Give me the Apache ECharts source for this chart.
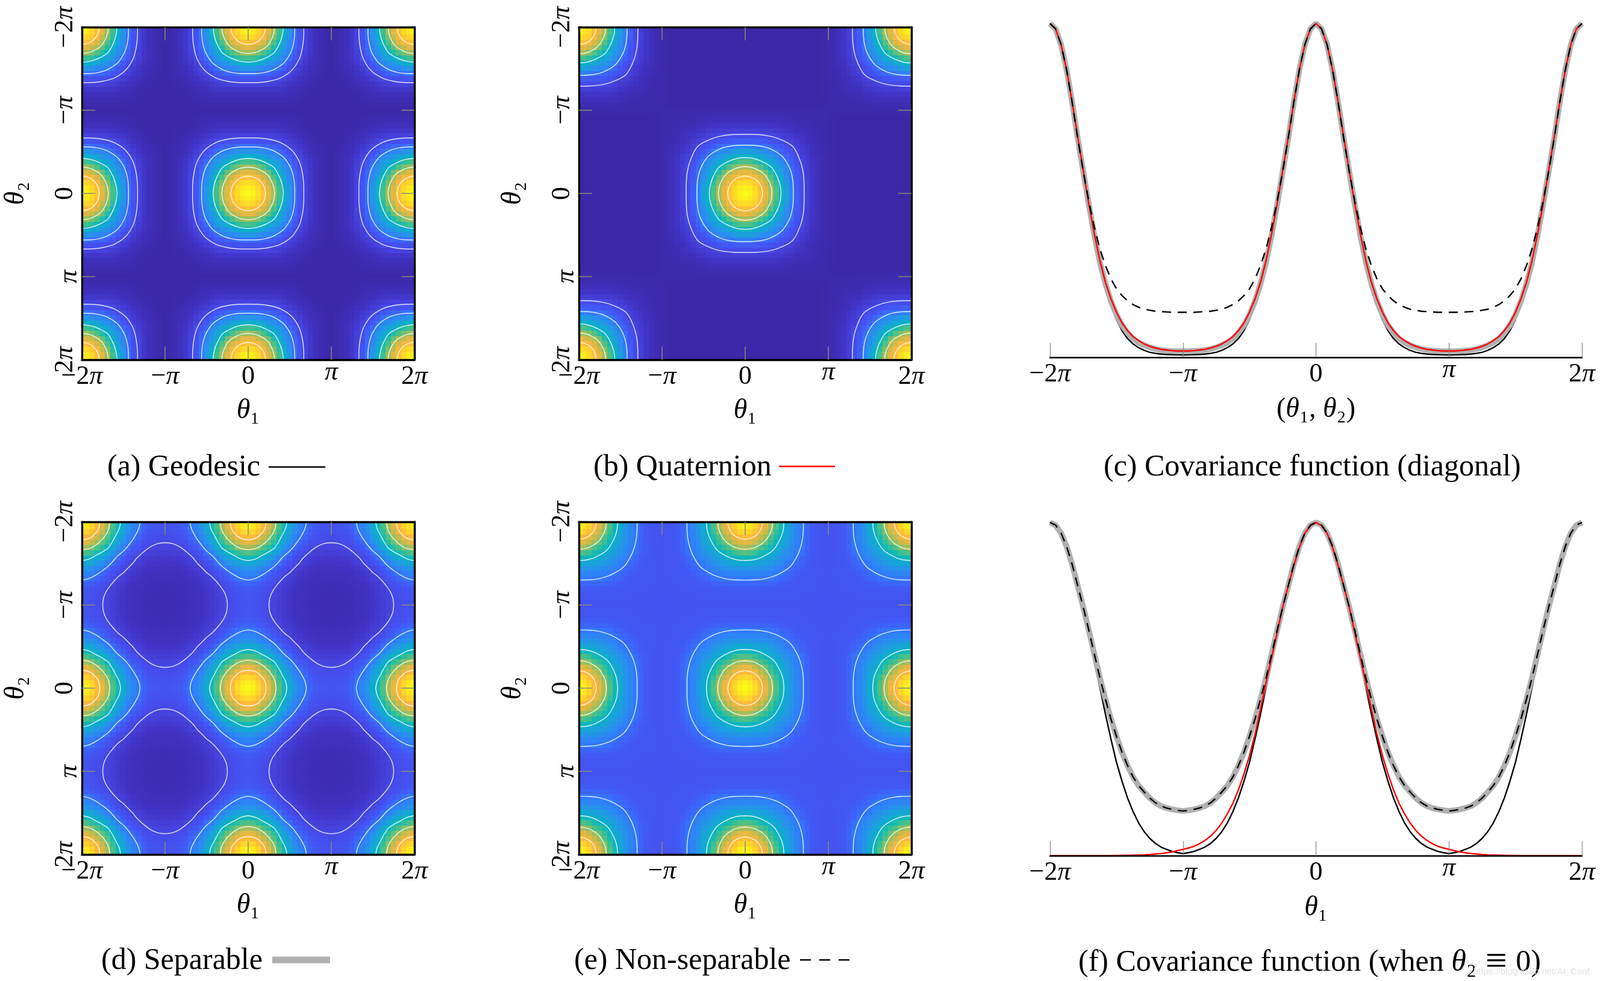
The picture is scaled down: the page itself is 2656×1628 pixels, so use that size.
<!DOCTYPE html>
<html><head><meta charset="utf-8">
<script src="https://cdn.jsdelivr.net/npm/echarts@6/dist/echarts.min.js"></script>
<style>html,body{margin:0;padding:0;background:#fff}#c{width:2656px;height:1628px}</style>
</head><body><div id="c"></div>
<script>
// ---- data (values in percent; angles in units of pi) ----
const tickLabels = ['−2π','−π','0','π','2π'];
// Heat tiles: offset from a peak, step pi/16, 0..pi. Symmetric, so row j holds columns i = j..16
const geodesicTile = [
[100,98,92,84,73,62,51,38,28,19.5,13.5,8.8,5.5,3.3,2,1,.5],
[95.5,90,82,72,61,50,37.5,28,19.5,13.5,8.8,5.5,3.3,2,1,.5],
[86,78,67,57,47,35,26,18.5,13,8.5,5.5,3.3,2,1,.5],
[70,62,52,42,32.5,24,17,12.5,8.5,5.5,3,2,1,.5],
[55,45,36,28,23,17.5,12.5,8.5,5.5,3.2,2,1,.5],
[38,32,26,22,16,11,7.8,5,3.2,2,1,.5],
[28,22.7,18,14,10.5,7,4.5,3,2,1,.5],
[18.7,15,11.3,8.7,6,3.9,2.5,1.7,1,.5],
[12,9.5,7,4.7,3.1,2.2,1.5,1,.5],
[7.5,5.5,4,2.6,2,1.4,.8,.5],
[4.2,2.9,2,1.4,1,.7,.4],
[2.2,1.5,1,.8,.5,.4],
[1,.8,.6,.4,.3],
[.6,.4,.3,.2],
[.3,.2,.2],
[.2,.1],
[0]];
const quaternionTile = [
[100,98,92,84.5,74,63.5,52.5,40,31,22.5,16,11,7.5,5,3,1.8,1],
[96,90.5,82.5,73,62.5,51.5,39.5,31,22.5,16,11,7.5,5,3,1.8,1],
[87,79,68,58,48,37,29,21,15.5,11,7.5,5,3,1.8,1],
[71,63,53,43,34,26,19.5,15,10.5,7,5,3,1.8,1],
[56,46,37,30,25,19,14.5,10.5,7,5,3,1.8,1],
[40,34,28,24,18,13.5,10,7,4.7,3,1.8,1],
[29,25,20,16,12.5,9,6.5,4.5,3,1.8,1],
[20,17,13.5,11,8,6,4,2.8,1.7,1],
[14,11.5,9,6.5,5,3.2,2.2,1.5,1],
[10,8,6,4.2,3,2,1.4,1],
[6,4.5,3,2.2,1.5,1.2,1],
[4,3,2,1.5,1.2,1],
[2.5,1.8,1.5,1,1],
[1.5,1.2,1,1],
[1,1,1],
[1,1],
[1]];
// Quaternion, off-peak block: theta1 in pi..2pi (rows), theta2 in 0..pi (columns)
const quaternionOffTile = [
[1,1,1,1,1,1,1,1,1,1,1,1,1,1,1,1,1],
[.5,.5,.5,.5,.5,.5,.5,.5,.5,.5,.5,.5,.5,.5,.5,.5,1],
[0,0,0,0,0,0,0,0,0,0,0,0,0,0,0,.5,1],
[0,0,0,0,0,0,0,0,0,0,0,0,0,0,0,.5,1],
[0,0,0,0,0,0,0,0,0,0,0,0,0,0,0,.5,1],
[0,0,0,0,0,0,0,0,0,0,0,0,0,0,0,.5,1],
[0,0,0,0,0,0,0,0,0,0,0,0,0,0,0,.5,1],
[0,0,0,0,0,0,0,0,0,0,0,0,0,0,0,.5,1],
[0,0,0,0,0,0,0,0,0,0,0,0,0,0,0,.5,1],
[0,0,0,0,0,0,0,0,0,0,0,0,0,0,0,.5,1],
[0,0,0,0,0,0,0,0,0,0,0,0,0,0,0,.5,1],
[0,0,0,0,0,0,0,0,0,0,0,0,0,0,0,.5,1],
[0,0,0,0,0,0,0,0,0,0,0,0,0,0,0,.5,1],
[0,0,0,0,0,0,0,0,0,0,0,0,0,0,0,.5,1],
[0,0,0,0,0,0,0,0,0,0,0,0,0,0,0,.5,1],
[0,0,0,0,0,0,0,0,0,0,0,0,0,0,0,.5,1],
[0,0,0,0,0,0,0,0,0,0,0,0,0,0,0,.5,1]];
const separableTile = [
[100,97.5,91,82,74,63.5,52.5,42.5,35,28,23.5,20.5,17,15.2,14.2,13.6,13.4],
[95,88.7,80,72.2,61.9,51.2,41.4,34.1,27.3,22.9,20,16.6,14.8,13.8,13.3,13.1],
[82.8,74.6,67.3,57.8,47.8,38.7,31.9,25.5,21.4,18.7,15.5,13.8,12.9,12.4,12.2],
[67.2,60.7,52,43,34.9,28.7,23,19.3,16.8,13.9,12.5,11.6,11.2,11],
[54.8,47,38.9,31.5,25.9,20.7,17.4,15.2,12.6,11.2,10.5,10.1,9.9],
[40.3,33.3,27,22.2,17.8,14.9,13,10.8,9.7,9,8.6,8.5],
[27.6,22.3,18.4,14.7,12.3,10.8,8.9,8,7.5,7.1,7],
[18.1,14.9,11.9,10,8.7,7.2,6.5,6,5.8,5.7],
[12.3,9.8,8.2,7.2,6,5.3,5,4.8,4.7],
[7.8,6.6,5.7,4.8,4.3,4,3.8,3.8],
[5.5,4.8,4,3.6,3.3,3.2,3.1],
[4.2,3.5,3.1,2.9,2.8,2.7],
[2.9,2.6,2.4,2.3,2.3],
[2.3,2.2,2.1,2],
[2,1.9,1.9],
[1.8,1.8],
[1.8]];
const nonSeparableTile = [
[100,97.5,91,82,74,63.5,52.5,42.5,35,28,23.5,20.5,17,15.2,14.2,13.6,13.4],
[95,88.7,80,72.2,61.9,51.7,42,35,28,23.5,20.5,17,15.2,14.2,13.6,13.4],
[82.8,74.6,67.3,58,49,40.5,33.6,27.3,23.2,20.3,17,15.2,14.2,13.6,13.4],
[67.2,61,52,44,37,32,27,23.2,20.1,17,15.2,14.2,13.6,13.4],
[55,48,41,35,30.8,26.2,22.6,20,16.8,15.2,14.2,13.6,13.4],
[43,37,32,28.5,25,21.7,19.4,16.7,15.2,14.2,13.6,13.4],
[33,29,26.5,23.5,20.8,18.7,16.3,14.9,14.2,13.6,13.4],
[26,24,22,19.4,17,15.4,14.8,14.1,13.6,13.4],
[21,19.5,18,16.5,15.2,14.5,14,13.6,13.4],
[17.5,16.8,15.8,15,14.5,14,13.6,13.4],
[15.6,15,14.6,14.2,13.9,13.6,13.4],
[14.5,14.3,14,13.8,13.6,13.4],
[14,13.8,13.7,13.6,13.5],
[13.7,13.6,13.5,13.5],
[13.5,13.5,13.5],
[13.5,13.5],
[13.5]];
// Contour half-arcs: offset from a peak in units of pi, axis to diagonal
const geodesicContours = [
[[.208,0],[.2,.055],[.18,.104],[.147,.147]],
[[.317,0],[.305,.085],[.275,.16],[.228,.228]],
[[.422,0],[.41,.10],[.375,.2],[.31,.31]],
[[.56,0],[.558,.1],[.544,.205],[.51,.31],[.43,.43]],
[[.669,0],[.667,.12],[.652,.25],[.612,.388],[.522,.522]]];
const quaternionContours = [
[[.21,0],[.2,.057],[.18,.105],[.149,.149]],
[[.322,0],[.31,.087],[.278,.163],[.23,.23]],
[[.431,0],[.42,.102],[.383,.204],[.315,.315]],
[[.58,0],[.578,.1],[.563,.212],[.528,.32],[.445,.445]],
[[.71,0],[.708,.13],[.695,.265],[.655,.41],[.568,.568]]];
const separableContours = [
[[.216,0],[.205,.07],[.18,.12],[.15,.15]],
[[.336,0],[.32,.09],[.285,.16],[.228,.228]],
[[.466,0],[.448,.083],[.405,.167],[.36,.25],[.315,.315]],
[[.70,0],[.682,.083],[.64,.167],[.585,.25],[.518,.333],[.42,.42]],
[[1,.25],[.917,.26],[.833,.295],[.75,.355],[.667,.43],[.61,.5],[.555,.555]]];
const nonSeparableContours = [
[[.21,0],[.2,.057],[.18,.105],[.149,.149]],
[[.33,0],[.318,.089],[.285,.167],[.235,.235]],
[[.466,0],[.455,.11],[.415,.22],[.338,.338]],
[[.70,0],[.698,.125],[.68,.255],[.635,.39],[.54,.54]]];
// Curves, step pi/24 over 0..pi from a peak
const diagGeodesic = [100,98.4,93.7,86.1,76.4,65.6,55.5,45.5,36,27.5,21,15.5,11.3,8,5.6,4,2.9,2.1,1.5,1.2,1,.85,.8,.75,.7];
const diagQuaternion = [100,98.4,93.7,86.1,76.4,66,56,46,37,29,22.5,17.5,13.5,10.3,8,6.2,5,4,3.3,2.8,2.4,2.2,2,1.9,1.9];
const diagSeparable = [100,98.4,93.7,86.1,76.4,65.6,55.7,45.8,36.6,28.5,22.1,16.8,12.8,9.6,7.3,5.6,4.4,3.6,3,2.5,2.2,2,1.9,1.8,1.8];
const diagNonSeparable = [100,98.4,93.7,86.1,76.4,65.6,55.7,46.8,39,32.5,27.5,23.5,20.5,18.5,16.9,15.8,15,14.4,14.1,13.8,13.7,13.6,13.5,13.5,13.5];
const axisGeodesic = [100,99,96.5,92,86.5,80,73,65.7,58,50.5,42.5,35,28,22.3,17.3,13.2,9.8,7.2,5.2,3.7,2.6,1.9,1.3,.9,.6];
const axisSeparable = [100,99.2,96.8,92.8,87.4,81,74.6,67.7,60.5,53.4,47,41,35.8,31,27,23.6,21,19.1,17.3,15.9,14.9,14.3,13.9,13.6,13.4];
const axisNonSeparable = [100,99.2,96.8,92.8,87.4,81,74.6,67.7,60.5,53.4,47,41,35.8,31,27,23.6,21,19.1,17.3,15.9,14.9,14.3,13.9,13.6,13.4];
// Quaternion on theta2=0 has no peak at 2pi: step pi/24 over 0..2pi
const axisQuaternion = [100,99,96.8,92.5,87,81,74.6,67,59.5,52,44,36.5,30,24.5,19.7,15.7,12.5,9.8,7.6,5.9,4.6,3.6,2.8,2.3,1.9,
 1.5,1.1,.85,.65,.5,.35,.25,.2,.15,.1,.05,.05,0,0,0,0,0,0,0,0,0,0,0,0];

const parula = ['#3c27a6','#4135c8','#4648e6','#4258f5','#3278fc','#2a8cf0','#1e9ee0','#10aad0','#08b4c2','#20bcaa','#3cc090','#68c078','#94c060','#b8bc52','#d8b848','#f0b840','#fdb83c','#fcc832','#fcd82a','#fbe81e','#f9fb15'];

// ---- assembling ----
const SERIF = '"Liberation Serif"';
const tri = (t, a, b) => { const lo = Math.min(a, b), hi = Math.max(a, b); return t[lo][hi - lo]; };
const fold = n => { const m = Math.abs(n) % 32; return m > 16 ? 32 - m : m; };
const periodic = t => (a, b) => tri(t, fold(a), fold(b));
const quatLookup = (a, b) => {
  a = Math.abs(a); b = Math.abs(b);
  if (a <= 16 && b <= 16) return tri(quaternionTile, a, b);
  if (a > 16 && b > 16) return tri(quaternionTile, 32 - a, 32 - b);
  return a > 16 ? quaternionOffTile[a - 16][b] : quaternionOffTile[b - 16][a];
};
function cells(lookup) {
  const out = [];
  for (let i = -32; i <= 32; i++) for (let j = -32; j <= 32; j++) out.push([i / 16, j / 16, lookup(i, j)]);
  return out;
}
function contourLines(halfArcs, peaks) {
  const out = [];
  halfArcs.forEach(h => {
    const arc = h.concat(h.slice(0, -1).reverse().map(p => [p[1], p[0]]));
    peaks.forEach(c => [1, -1].forEach(sx => [1, -1].forEach(sy => {
      const pts = arc.map(p => [c[0] + sx * p[0], c[1] + sy * p[1]]);
      if (!pts.some(p => Math.abs(p[0]) <= 2 && Math.abs(p[1]) <= 2)) return;
      out.push(...pts, ['-', '-']);
    })));
  });
  return out;
}
const allPeaks = []; [-2, 0, 2].forEach(x => [-2, 0, 2].forEach(y => allPeaks.push([x, y])));
const quatPeaks = [[0,0],[-2,-2],[-2,2],[2,-2],[2,2]];
const mirrored = arr => { const o = []; for (let k = -48; k <= 48; k++) { let m = Math.abs(k) % 48; if (m > 24) m = 48 - m; o.push([k / 24, arr[m]]); } return o; };
const mirroredWide = arr => { const o = []; for (let k = -48; k <= 48; k++) o.push([k / 24, arr[Math.abs(k)]]); return o; };

const TICK = 44;
const labelRich = {
  n: { fontFamily: SERIF, fontSize: TICK, color: '#000', lineHeight: 56 },
  p: { fontFamily: SERIF, fontStyle: 'italic', fontSize: TICK, color: '#000', lineHeight: 56 },
  u: { fontFamily: SERIF, fontStyle: 'italic', fontSize: TICK, color: '#000', lineHeight: 42 }
};
const fmtTick = v => {
  const s = tickLabels[Math.round(v) + 2];
  if (s === 'π') return '{u|π}';
  if (s === '0') return '{n|0}';
  return '{n|' + s.replace('π', '') + '}{p|π}';
};
const nameRich = {
  t: { fontFamily: SERIF, fontStyle: 'italic', fontSize: 46, color: '#000' },
  s: { fontFamily: SERIF, fontSize: 46, color: '#000' }
};
const th1 = '{t|θ}{s|₁}', th2 = '{t|θ}{s|₂}';

const grid = [], xAxis = [], yAxis = [], series = [];
function baseAxis(extra) {
  return Object.assign({ type: 'value', min: -2, max: 2, interval: 1, z: 5, splitLine: { show: false }, silent: true,
    nameMoveOverlap: false,
    axisLine: { show: true, onZero: false, lineStyle: { color: '#000', width: 3.4 } },
    axisTick: { show: true, inside: true, length: 22, customValues: [-1, 0, 1], lineStyle: { color: '#8a8a78', width: 1.5 } },
    axisLabel: { show: false } }, extra);
}
function heatPanel(left, top, size, data, contours) {
  const g = grid.length;
  grid.push({ left, top, width: size, height: size, containLabel: false, outerBoundsMode: 'none' });
  const xi = xAxis.length, yi = yAxis.length;
  xAxis.push(baseAxis({ gridIndex: g, position: 'bottom', name: th1, nameLocation: 'middle', nameGap: 62,
    nameTextStyle: { rich: nameRich },
    axisLabel: { show: true, margin: 0, fontFamily: SERIF, fontSize: TICK, color: '#000', formatter: fmtTick, rich: labelRich } }));
  xAxis.push(baseAxis({ gridIndex: g, position: 'top' }));
  yAxis.push(baseAxis({ gridIndex: g, position: 'left', inverse: true, name: th2, nameLocation: 'middle', nameGap: 86, nameRotate: 90,
    nameTextStyle: { rich: nameRich },
    axisLabel: { show: true, rotate: 90, margin: 0, fontFamily: SERIF, fontSize: TICK, color: '#000', formatter: fmtTick, rich: labelRich } }));
  yAxis.push(baseAxis({ gridIndex: g, position: 'right', inverse: true }));
  const half = 1 / 32;
  series.push({ type: 'custom', xAxisIndex: xi, yAxisIndex: yi, data, clip: true, z: 1, silent: true, animation: false,
    encode: { x: 0, y: 1 },
    renderItem(params, api) {
      const cs = params.coordSys;
      const x = api.value(0), y = api.value(1);
      const a = api.coord([x - half, y - half]), b = api.coord([x + half, y + half]);
      const x0 = Math.max(cs.x, Math.floor(Math.min(a[0], b[0]))), x1 = Math.min(cs.x + cs.width, Math.ceil(Math.max(a[0], b[0])));
      const y0 = Math.max(cs.y, Math.floor(Math.min(a[1], b[1]))), y1 = Math.min(cs.y + cs.height, Math.ceil(Math.max(a[1], b[1])));
      return { type: 'rect', shape: { x: x0, y: y0, width: x1 - x0, height: y1 - y0 }, style: { fill: api.visual('color') } };
    } });
  series.push({ type: 'line', xAxisIndex: xi, yAxisIndex: yi, data: contours, z: 2, silent: true, animation: false, showSymbol: false, symbol: 'none',
    smooth: 0.35, connectNulls: false, clip: true, lineStyle: { color: 'rgba(255,255,255,0.85)', width: 1.4 } });
}
function linePanel(left, top, width, height, name, curves) {
  const g = grid.length;
  grid.push({ left, top, width, height, containLabel: false, outerBoundsMode: 'none' });
  const xi = xAxis.length, yi = yAxis.length;
  xAxis.push({ type: 'value', gridIndex: g, min: -2, max: 2, interval: 1, position: 'bottom', z: 10, splitLine: { show: false }, silent: true,
    name, nameLocation: 'middle', nameGap: 64, nameMoveOverlap: false, nameTextStyle: { rich: Object.assign({ b: { fontFamily: SERIF, fontSize: 46, color: '#000' } }, nameRich) },
    axisLine: { show: true, onZero: false, lineStyle: { color: '#000', width: 2.5 } },
    axisTick: { show: true, inside: true, length: 24, lineStyle: { color: '#888', width: 1.2 } },
    axisLabel: { show: true, margin: 0, fontFamily: SERIF, fontSize: TICK, color: '#000', formatter: fmtTick, rich: labelRich } });
  yAxis.push({ type: 'value', gridIndex: g, min: 0, max: 100, show: false, splitLine: { show: false } });
  curves.forEach((c, i) => series.push({ type: 'line', name: c.name, xAxisIndex: xi, yAxisIndex: yi, data: c.data, z: 2 + i, silent: true, animation: false,
    showSymbol: false, symbol: 'none', clip: false, lineStyle: c.style }));
}
const S = { sep: { color: '#b0b0b0', width: 9.5 }, geo: { color: '#000', width: 2.4 }, qua: { color: '#f00', width: 2.4 }, non: { color: '#000', width: 2.4, type: [15, 11] } };

heatPanel(136, 45, 552, cells(periodic(geodesicTile)), contourLines(geodesicContours, allPeaks));
heatPanel(961, 45, 552, cells(quatLookup), contourLines(quaternionContours, quatPeaks));
linePanel(1743, 39, 883, 554, '{b|(}{t|θ}{s|₁}{b|, }{t|θ}{s|₂}{b|)}', [
  { name: 'Geodesic', style: S.geo, data: mirrored(diagGeodesic) },
  { name: 'Separable', style: S.sep, data: mirrored(diagSeparable) },
  { name: 'Quaternion', style: S.qua, data: mirrored(diagQuaternion) },
  { name: 'Non-separable', style: S.non, data: mirrored(diagNonSeparable) }]);
heatPanel(136, 866, 552, cells(periodic(separableTile)), contourLines(separableContours, allPeaks));
heatPanel(961, 866, 552, cells(periodic(nonSeparableTile)), contourLines(nonSeparableContours, allPeaks));
linePanel(1743, 867, 883, 553, th1, [
  { name: 'Geodesic', style: S.geo, data: mirrored(axisGeodesic) },
  { name: 'Separable', style: S.sep, data: mirrored(axisSeparable) },
  { name: 'Quaternion', style: S.qua, data: mirroredWide(axisQuaternion) },
  { name: 'Non-separable', style: S.non, data: mirrored(axisNonSeparable) }]);

const heatSeriesIdx = series.map((s, i) => s.type === 'custom' ? i : -1).filter(i => i >= 0);
const capStyle = { fontFamily: SERIF, fontSize: 50, fontWeight: 'normal', color: '#000',
  rich: { i: { fontFamily: SERIF, fontStyle: 'italic', fontSize: 50, color: '#000' },
          e: { fontFamily: SERIF, fontSize: 64, color: '#000', padding: [0, 2, 0, 2] } } };
const captions = [
  ['(a) Geodesic', 178, 751], ['(b) Quaternion', 985, 751], ['(c) Covariance function (diagonal)', 1832, 751],
  ['(d) Separable', 168, 1570], ['(e) Non-separable', 953, 1570], ['(f) Covariance function (when {i|θ}₂ {e|≡} 0)', 1790, 1566]];
const title = captions.map(c => ({ text: c[0], left: c[1], top: c[2], padding: 0, textStyle: capStyle }));
title.push({ text: 'https://blog.csdn.net/AI_Conf', left: 2446, top: 1605, padding: 0, textStyle: { fontFamily: '"Liberation Sans"', fontSize: 15, fontWeight: 'normal', color: '#e2e2e2' } });

const sample = (x1, x2, y, style) => ({ type: 'line', shape: { x1, y1: y, x2, y2: y }, style, silent: true });
const graphic = [
  sample(446, 540, 775, { stroke: '#000', lineWidth: 2.4 }),
  sample(1293, 1386, 774, { stroke: '#f00', lineWidth: 2.4 }),
  sample(452, 548, 1593, { stroke: '#b0b0b0', lineWidth: 11 }),
  sample(1328, 1410, 1593, { stroke: '#000', lineWidth: 2.4, lineDash: [18, 14] })
];

const chart = echarts.init(document.getElementById('c'), null, { width: 2656, height: 1628 });
chart.setOption({ backgroundColor: '#fff', animation: false, title, grid, xAxis, yAxis, series, graphic,
  visualMap: { show: false, type: 'continuous', min: 0, max: 100, dimension: 2, seriesIndex: heatSeriesIdx, inRange: { color: parula } } });
</script></body></html>
